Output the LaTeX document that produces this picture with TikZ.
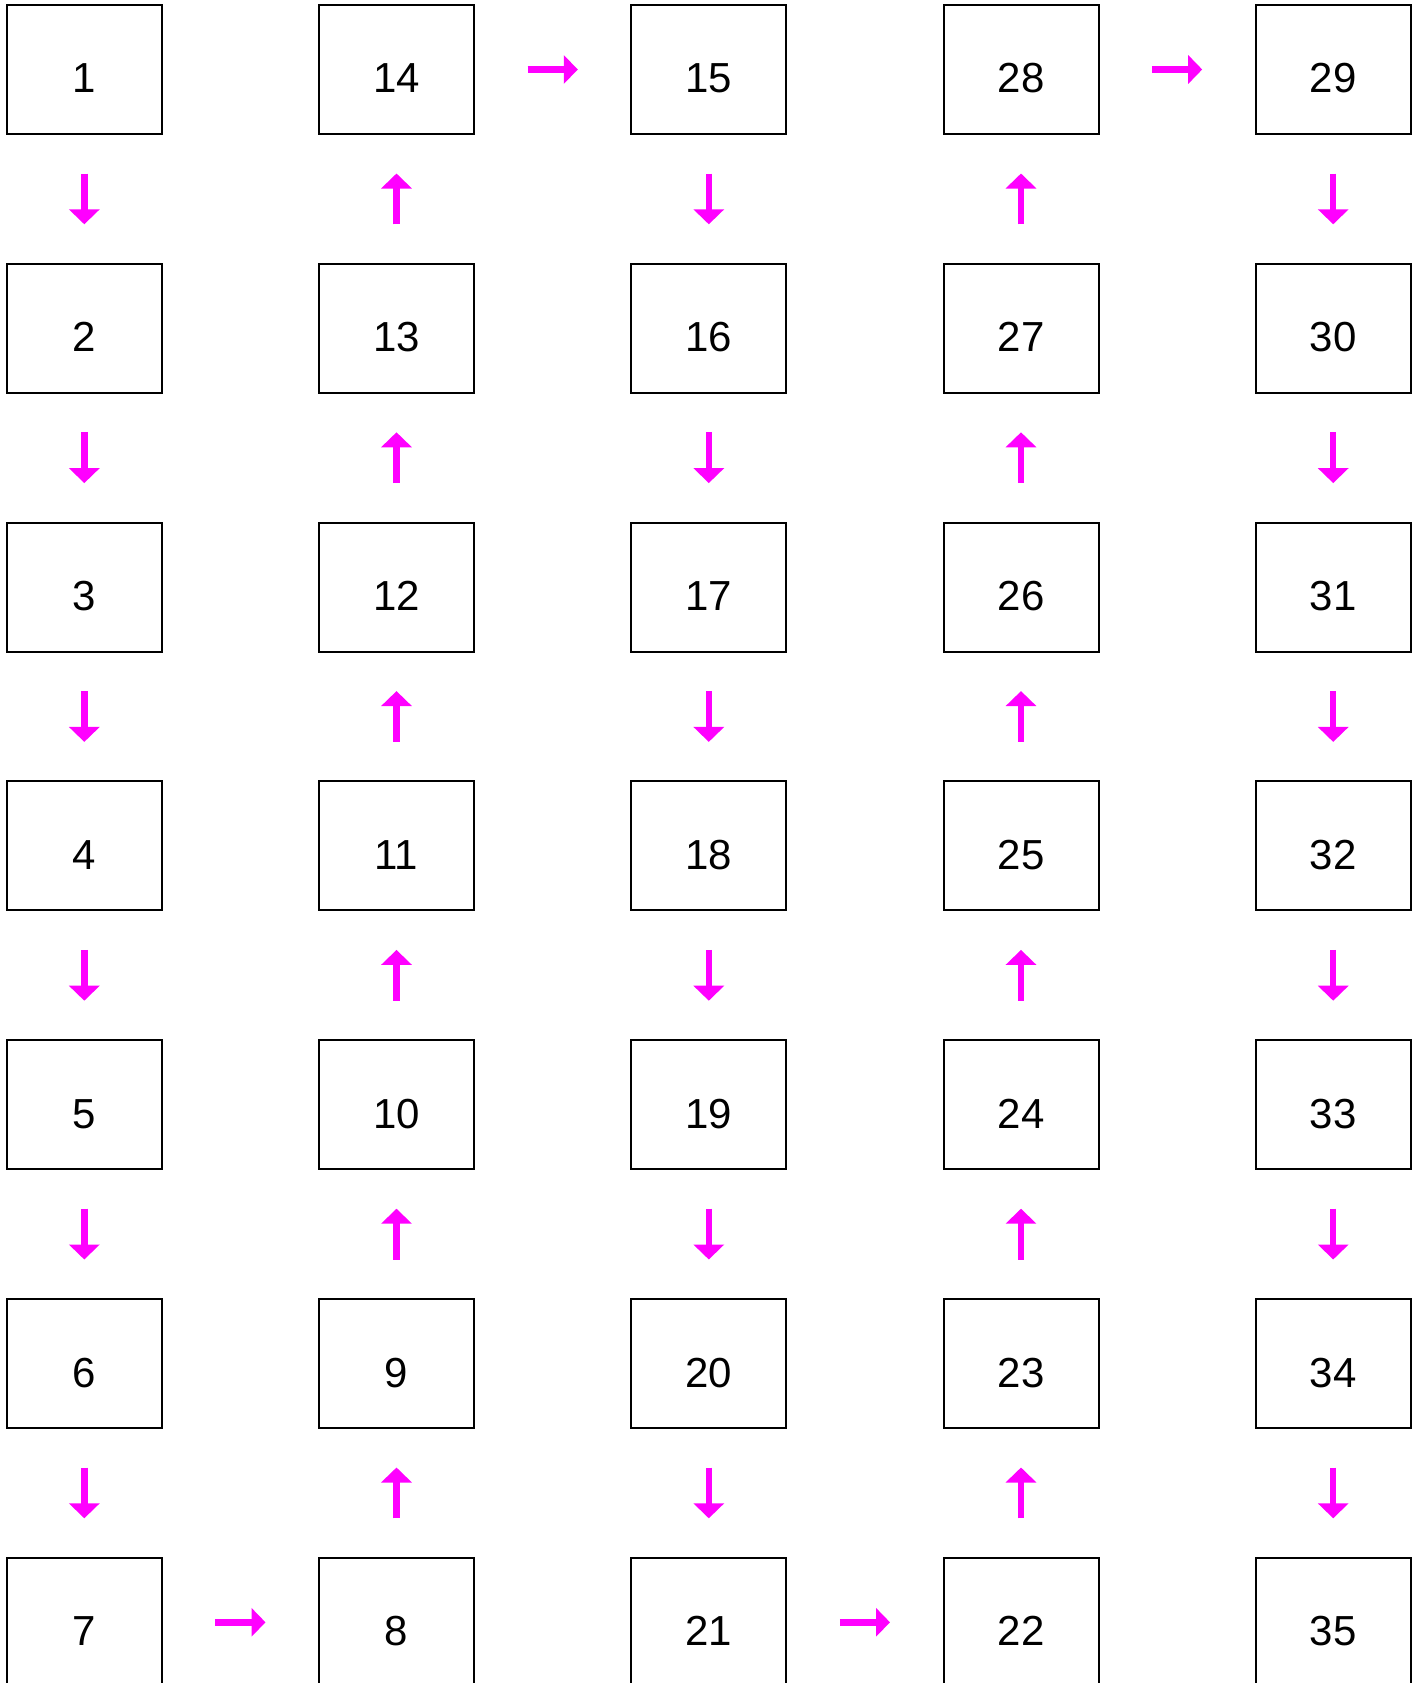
\documentclass[tikz,border=0pt]{standalone}
\usepackage{fontspec}
\setmainfont{Liberation Sans}
\usetikzlibrary{arrows.meta}
\definecolor{mag}{HTML}{FF00FF}
\begin{document}
\begin{tikzpicture}[x=1pt,y=-1pt,
  cell/.style={draw=black,line width=2pt,minimum width=155pt,minimum height=129pt,inner sep=0pt,
    text height=47pt,text depth=0pt,font=\fontsize{42}{50}\selectfont},
  varr/.style={draw=mag,line width=6.5pt,-{Triangle[width=30pt,length=15pt]},shorten <=38.5pt,shorten >=38.5pt},
  harr/.style={draw=mag,line width=7pt,-{Triangle[width=28pt,length=14pt]},shorten <=52.5pt,shorten >=52.5pt}]
\useasboundingbox (0,0) rectangle (1422,1683);
\fill[white] (0,0) rectangle (1422,1683);
% column 1 down 1..7
\foreach \r in {1,...,7}{
  \pgfmathtruncatemacro{\a}{\r}
  \pgfmathtruncatemacro{\b}{15-\r}
  \pgfmathtruncatemacro{\c}{14+\r}
  \pgfmathtruncatemacro{\d}{29-\r}
  \pgfmathtruncatemacro{\e}{28+\r}
  \node[cell] (n\a) at (84.3,{69.5+258.8*(\r-1)}) {\a};
  \node[cell] (n\b) at (396.5,{69.5+258.8*(\r-1)}) {\b};
  \node[cell] (n\c) at (708.8,{69.5+258.8*(\r-1)}) {\c};
  \node[cell] (n\d) at (1021.0,{69.5+258.8*(\r-1)}) {\d};
  \node[cell] (n\e) at (1333.2,{69.5+258.8*(\r-1)}) {\e};
}
\foreach \i in {1,...,34}{
  \pgfmathtruncatemacro{\j}{\i+1}
  \ifnum\i=7 \draw[harr] (n\i) -- (n\j);
  \else\ifnum\i=14 \draw[harr] (n\i) -- (n\j);
  \else\ifnum\i=21 \draw[harr] (n\i) -- (n\j);
  \else\ifnum\i=28 \draw[harr] (n\i) -- (n\j);
  \else \draw[varr] (n\i) -- (n\j);
  \fi\fi\fi\fi
}
\end{tikzpicture}
\end{document}
